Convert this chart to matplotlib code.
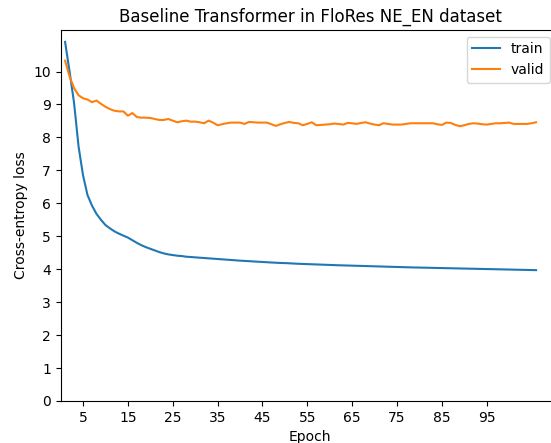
import matplotlib
matplotlib.use("Agg")
import matplotlib.pyplot as plt

train_loss = [
    10.9, 10.0, 9.05, 7.73, 6.85, 6.25, 5.93, 5.68, 5.5, 5.34,
    5.24, 5.15, 5.08, 5.02, 4.96, 4.88, 4.8, 4.73, 4.67, 4.62,
    4.57, 4.52, 4.48, 4.45, 4.43, 4.41, 4.4, 4.38, 4.37, 4.36,
    4.35, 4.34, 4.33, 4.32, 4.31, 4.3, 4.29, 4.28, 4.27, 4.26,
    4.252, 4.244, 4.236, 4.228, 4.22, 4.212, 4.204, 4.197, 4.19, 4.186,
    4.18, 4.172, 4.165, 4.16, 4.155, 4.15, 4.145, 4.14, 4.135, 4.13,
    4.125, 4.12, 4.116, 4.112, 4.108, 4.104, 4.1, 4.096, 4.092, 4.088,
    4.084, 4.08, 4.076, 4.072, 4.068, 4.064, 4.06, 4.056, 4.053, 4.05,
    4.047, 4.044, 4.041, 4.038, 4.035, 4.032, 4.029, 4.026, 4.023, 4.02,
    4.017, 4.014, 4.011, 4.008, 4.005, 4.002, 3.999, 3.996, 3.993, 3.99,
    3.987, 3.984, 3.981, 3.978, 3.975, 3.972,
]

valid_loss = [
    10.33, 9.85, 9.5, 9.28, 9.19, 9.15, 9.07, 9.12, 9.02, 8.93,
    8.86, 8.81, 8.79, 8.79, 8.66, 8.74, 8.62, 8.6, 8.6, 8.59,
    8.56, 8.53, 8.53, 8.56, 8.51, 8.46, 8.49, 8.51, 8.48, 8.48,
    8.46, 8.43, 8.51, 8.45, 8.37, 8.4, 8.43, 8.45, 8.45, 8.45,
    8.41, 8.47, 8.46, 8.45, 8.45, 8.45, 8.4, 8.35, 8.4, 8.44,
    8.47, 8.44, 8.43, 8.37, 8.41, 8.46, 8.37, 8.38, 8.39, 8.4,
    8.42, 8.41, 8.39, 8.44, 8.43, 8.41, 8.44, 8.46, 8.42, 8.39,
    8.37, 8.43, 8.41, 8.39, 8.39, 8.39, 8.41, 8.43, 8.43, 8.43,
    8.43, 8.43, 8.43, 8.4, 8.38, 8.45, 8.44, 8.38, 8.34, 8.37,
    8.41, 8.43, 8.42, 8.4, 8.39, 8.41, 8.43, 8.43, 8.44, 8.45,
    8.41, 8.41, 8.41, 8.41, 8.43, 8.46,
]

epochs = list(range(1, len(train_loss) + 1))

xtick_values = [5, 15, 25, 35, 45, 55, 65, 75, 85, 95]
ytick_values = list(range(0, 11))

W, H = 551, 443
fig = plt.figure(figsize=(W / 100, H / 100), dpi=100)
left_px, right_px, top_px, bottom_px = 60.6, 559.6, 29.7, 401.0
ax = fig.add_axes([left_px / W, (H - bottom_px) / H,
                   (right_px - left_px) / W, (bottom_px - top_px) / H])

ax.plot(epochs, train_loss, color="#1f77b4", label="train")
ax.plot(epochs, valid_loss, color="#ff7f0e", label="valid")

ax.set_xlim(0, 111.25)
ax.set_ylim(0, 11.27)
ax.set_xticks(xtick_values)
ax.set_yticks(ytick_values)
ax.set_xlabel("Epoch")
ax.set_ylabel("Cross-entropy loss")
ax.set_title("Baseline Transformer in FloRes NE_EN dataset")
ax.legend(loc="upper right", bbox_to_anchor=(557 / W, (H - top_px) / H),
          bbox_transform=fig.transFigure)

fig.savefig("out.png", dpi=100)
